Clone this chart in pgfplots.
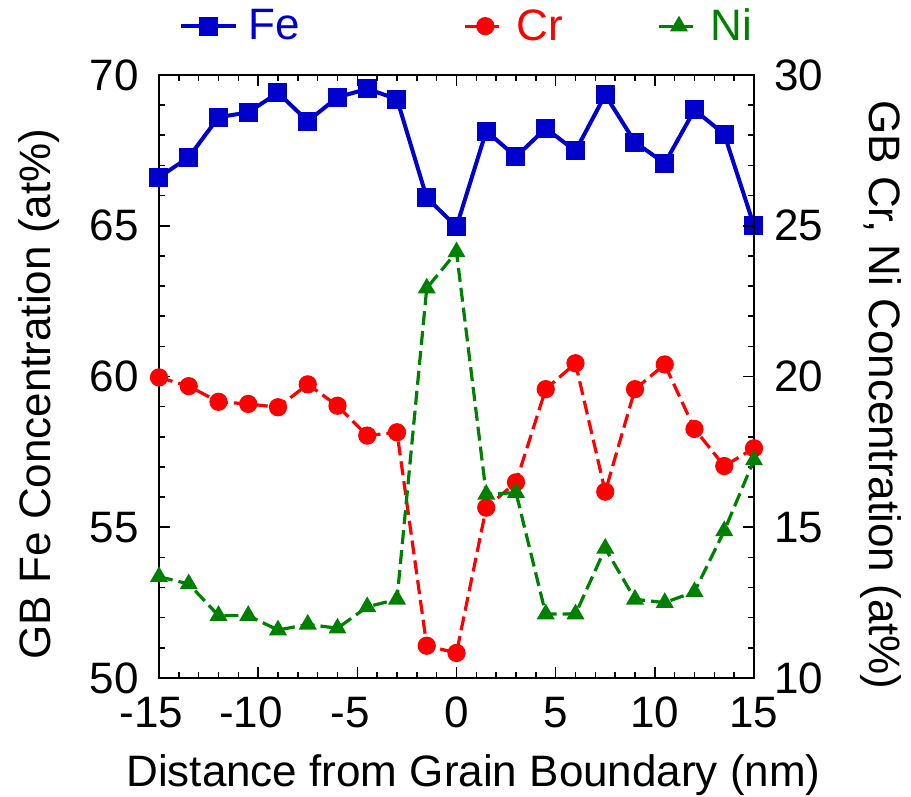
\documentclass[border=0pt]{standalone}
\usepackage{fontspec}
\setmainfont{Liberation Sans}
\usepackage{pgfplots}
\usepackage{pgfplotstable}
\pgfplotsset{compat=1.18}
\definecolor{feblue}{RGB}{0,0,204}
\definecolor{crred}{RGB}{255,0,0}
\definecolor{nigreen}{RGB}{0,128,0}
\pgfplotstableread{
x fe cr ni
-15 66.61 19.97 13.36
-13.5 67.27 19.68 13.12
-12 68.60 19.16 12.07
-10.5 68.76 19.09 12.07
-9 69.41 18.98 11.59
-7.5 68.47 19.74 11.78
-6 69.26 19.03 11.65
-4.5 69.54 18.04 12.36
-3 69.20 18.15 12.61
-1.5 65.93 11.07 22.93
0 64.97 10.83 24.13
1.5 68.14 15.65 16.09
3 67.29 16.49 16.15
4.5 68.23 19.58 12.12
6 67.48 20.44 12.12
7.5 69.34 16.18 14.30
9 67.77 19.58 12.61
10.5 67.07 20.40 12.50
12 68.84 18.26 12.86
13.5 68.04 17.03 14.88
15 65.00 17.62 17.23
}\data
\newcommand{\bigf}{\fontsize{22}{26}\selectfont}
\pgfplotsset{
 legA/.style={legend image code/.code={\draw[mark repeat=2,mark phase=2,##1] plot coordinates {(0pt,0pt)(13.75pt,0pt)(27.5pt,0pt)};}},
 legB/.style={legend image code/.code={\draw[mark repeat=2,mark phase=2,##1] plot coordinates {(0pt,0pt)(10pt,0pt)(20pt,0pt)};}},
 common/.style={scale only axis, width=297.5pt, height=301.5pt,
  xmin=-15, xmax=15, clip=false,
  tick align=inside, major tick length=5.5pt, minor tick length=3pt,
  every tick/.style={black, line width=0.8pt},
  tick label style={font=\bigf},
  /pgf/number format/assume math mode=true,
  axis line style={line width=1pt},
 }
}
\begin{document}
\begin{tikzpicture}
\begin{axis}[common, ymin=50, ymax=70, ytick={50,55,...,70}, minor y tick num=4,
 xtick={-15,-10,...,15}, xticklabels={\llap{-}15,\llap{-}10,\llap{-}5,0,5,10,15},
 minor x tick num=4, xtick pos=both, ytick pos=left,
 yticklabel style={xshift=-6.5pt}, xticklabel style={yshift=-6pt}]
\addplot[feblue, line width=2pt, mark=square*, mark size=3.75pt] table[x=x,y=fe]{\data};
\end{axis}
\begin{axis}[common, ymin=10, ymax=30, ytick={10,15,...,30}, minor y tick num=4,
 axis y line*=right, axis x line=none, yticklabel style={xshift=6.5pt},
 legend columns=3,
 legend style={draw=none, fill=none, inner sep=0pt, font=\bigf,
   at={(axis description cs:0,1)}, anchor=south west, xshift=10pt, yshift=15.5pt,
   nodes={inner sep=0pt},
   /tikz/every odd column/.style={column sep=5pt}}]
\addlegendimage{feblue, line width=2pt, mark=square*, mark size=3.75pt, legA}
\addlegendentry{\textcolor{feblue}{Fe}\hspace*{82pt}}
\addplot[crred, line width=1.6pt, dash pattern=on 7pt off 3pt, mark=*, mark size=3.75pt, mark options={solid}, legB]
  table[x=x,y=cr]{\data};
\addlegendentry{\textcolor{crred}{Cr}\hspace*{47pt}}
\addplot[nigreen, line width=1.6pt, dash pattern=on 7pt off 3pt, mark=triangle*, mark size=3.6pt, mark options={solid}, legB]
  table[x=x,y=ni]{\data};
\addlegendentry{\textcolor{nigreen}{Ni}}
\end{axis}
\node[font=\bigf, rotate=90, anchor=center] at (-60pt,142pt) {GB Fe Concentration (at\%)};
\node[font=\bigf, rotate=-90, anchor=center] at (361pt,141.5pt) {GB Cr, Ni Concentration (at\%)};
\node[font=\bigf, anchor=base] at (157.25pt,-54.5pt) {Distance from Grain Boundary (nm)};
\pgfresetboundingbox
\path[use as bounding box] (-79.5pt,-59.5pt) rectangle (376pt,339pt);
\end{tikzpicture}
\end{document}
